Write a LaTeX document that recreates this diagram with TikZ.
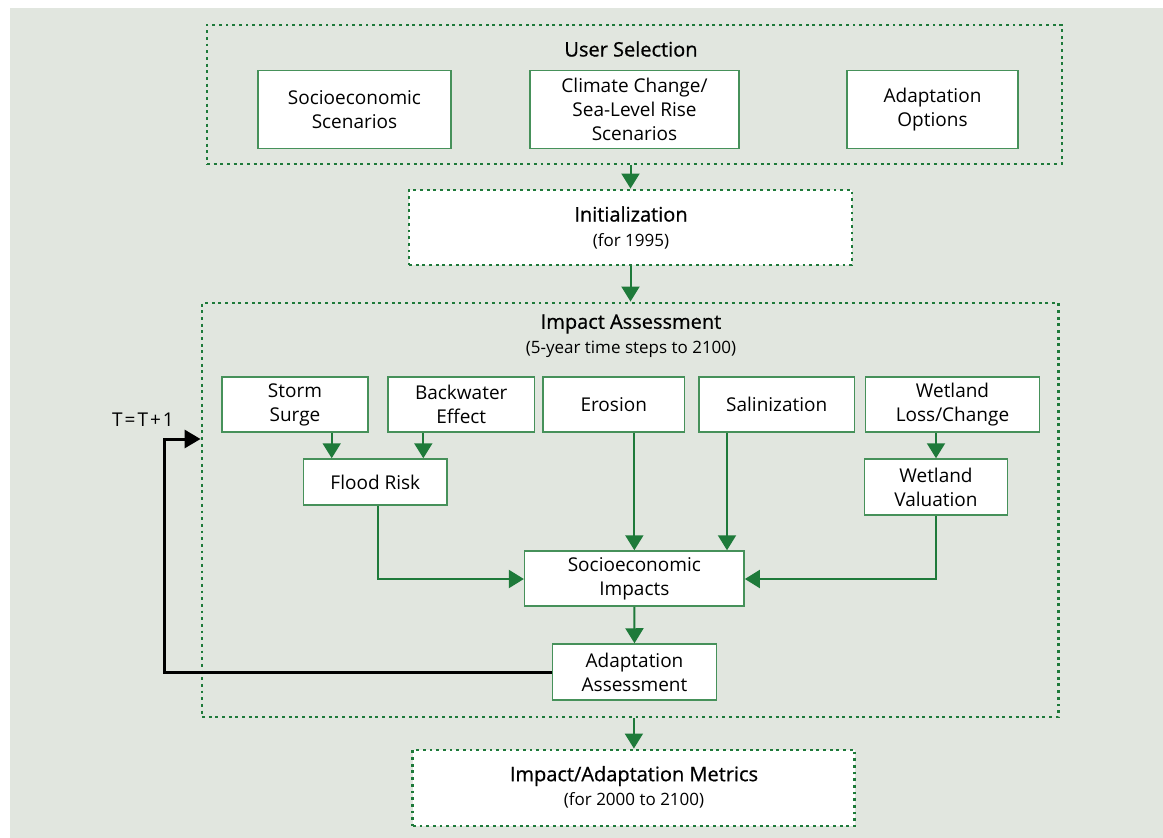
\documentclass[tikz,border=0pt]{standalone}
\usepackage{fontspec}
\setmainfont{Open Sans}
\newfontfamily\titlef[FakeBold=0.7]{Open Sans}
\usetikzlibrary{arrows.meta}
\definecolor{bggrey}{RGB}{225,230,223}
\definecolor{dgreen}{RGB}{30,122,58}
\definecolor{bgreen}{RGB}{70,145,90}
\begin{document}
\begin{tikzpicture}[x=1pt,y=-1pt,
 box/.style={draw=bgreen, line width=1.5pt, fill=white, align=center, inner sep=0pt, font=\fontsize{19}{24}\selectfont},
 dotbox/.style={draw=dgreen, line width=2.9pt, dash pattern=on 2.9pt off 3.77pt, inner sep=0pt},
 ttl/.style={font=\titlef\fontsize{20}{24}\selectfont, inner sep=0pt},
 subtxt/.style={font=\fontsize{17}{20}\selectfont, inner sep=0pt},
 arr/.style={draw=dgreen, line width=2pt, -{Triangle[length=15pt,width=18pt]}},
 blk/.style={draw=black, line width=3pt, -{Triangle[length=16pt,width=18pt]}}]
\useasboundingbox (0,0) rectangle (1163,838);
\fill[white] (0,0) rectangle (1163,838);
\fill[bggrey] (10,8) rectangle (1163,838);

% dotted containers
\node[dotbox, minimum width=855pt, minimum height=139pt] (usel) at (634.5,94.5) {};
\node[dotbox, fill=white, minimum width=443pt, minimum height=75pt] (init) at (630.5,227.5) {};
\node[dotbox, minimum width=856.5pt, minimum height=414pt] (imp) at (630.25,510) {};
\node[dotbox, fill=white, minimum width=442pt, minimum height=76pt] (metrics) at (633.9,788) {};

% titles
\node[ttl] (uselt) at (631,49) {User Selection};
\node[ttl] (initt) at (631,214) {Initialization};
\node[subtxt] (inits) at (631,241) {(for 1995)};
\node[ttl] (impt) at (631,324) {Impact Assessment};
\node[subtxt] (imps) at (631,349) {(5-year time steps to 2100)};
\node[ttl] (mett) at (634,776) {Impact/Adaptation Metrics};
\node[subtxt] (mets) at (634,800) {(for 2000 to 2100)};

% user selection boxes
\node[box, minimum width=193pt, minimum height=78pt] (soc) at (354.5,109.5) {Socioeconomic\\Scenarios};
\node[box, minimum width=209pt, minimum height=78pt] (clim) at (634.5,109.5) {Climate Change/\\Sea-Level Rise\\Scenarios};
\node[box, minimum width=171pt, minimum height=78pt] (aopt) at (932.5,109.5) {Adaptation\\Options};

% impact boxes
\node[box, minimum width=146pt, minimum height=55pt] (storm) at (295,404.5) {Storm\\Surge};
\node[box, minimum width=146.5pt, minimum height=55pt] (back) at (461.25,404.5) {Backwater\\Effect};
\node[box, minimum width=141.5pt, minimum height=55pt] (eros) at (613.75,404.5) {Erosion};
\node[box, minimum width=155.5pt, minimum height=55pt] (salin) at (776.75,404.5) {Salinization};
\node[box, minimum width=174pt, minimum height=55pt] (wloss) at (952.5,404.5) {Wetland\\Loss/Change};
\node[box, minimum width=143.3pt, minimum height=46pt] (flood) at (375.35,482) {Flood Risk};
\node[box, minimum width=143pt, minimum height=56pt] (wval) at (936,487) {Wetland\\Valuation};
\node[box, minimum width=219.5pt, minimum height=55pt] (sie) at (634.35,578.5) {Socioeconomic\\Impacts};
\node[box, minimum width=164pt, minimum height=56pt] (aa) at (634.5,672) {Adaptation\\Assessment};

% arrows
\draw[arr] (usel.south -| init.north) -- (init.north);
\draw[arr] (init.south) -- (imp.north -| init.south);
\draw[arr] (storm.south -| 331.7,0) -- (flood.north -| 331.7,0);
\draw[arr] (back.south -| 423.3,0) -- (flood.north -| 423.3,0);
\draw[arr] (wloss.south -| wval.north) -- (wval.north);
\draw[arr] (eros.south -| sie.north) -- (sie.north);
\draw[arr] (salin.south -| 727,0) -- (sie.north -| 727,0);
\draw[arr] (flood.south -| 378.3,0) |- (sie.west |- 0,579);
\draw[arr] (wval.south) |- (sie.east |- 0,579);
\draw[arr] (sie.south) -- (aa.north);
\draw[arr] (imp.south -| metrics.north) -- (metrics.north);

% feedback loop
\coordinate (loopc) at (164,439);
\draw[blk] (aa.west) -| (loopc) -- (loopc -| imp.west);
\node[font=\fontsize{19}{24}\selectfont, inner sep=0pt] (tt) at (143,420) {T\kern2pt=\kern2pt T\kern2pt+\kern2pt1};
\end{tikzpicture}
\end{document}
